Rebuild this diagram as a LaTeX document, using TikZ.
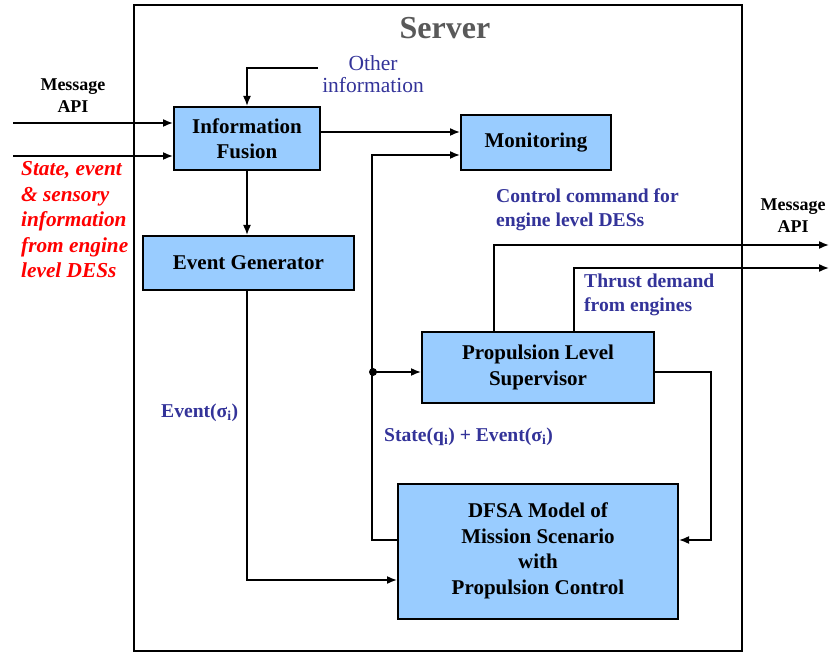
\documentclass[tikz,border=0pt]{standalone}
\usepackage{fontspec}
\setmainfont{Liberation Serif}
\usetikzlibrary{arrows.meta}
\definecolor{boxfill}{HTML}{99CCFF}
\definecolor{lblue}{HTML}{333399}
\definecolor{titlegray}{HTML}{595959}
\begin{document}
\begin{tikzpicture}[x=1pt,y=-1pt,
  box/.style={draw=black, line width=2pt, fill=boxfill, align=center,
    font=\fontsize{21}{25.5}\selectfont\bfseries, inner sep=0pt},
  arr/.style={line width=1.6pt, -{Latex[length=10pt,width=8pt]}},
  lbl/.style={text=lblue, font=\fontsize{19.6}{24}\selectfont\bfseries, align=left, inner sep=0pt},
  api/.style={font=\fontsize{18}{22}\selectfont\bfseries, align=center, inner sep=0pt}]
\useasboundingbox (0,0) rectangle (830,652);

% server frame and title
\draw[line width=1.6pt] (134,5) rectangle (742,651);
\node[text=titlegray, font=\fontsize{32}{36}\selectfont\bfseries] (title) at (445,28) {Server};

% blocks
\node[box, minimum width=146pt, minimum height=63pt] (IF) at (247,138.5) {Information\\Fusion};
\node[box, minimum width=150pt, minimum height=55pt] (Mon) at (536,143) {Monitoring};
\node[box, minimum width=211pt, minimum height=54pt] (EG) at (248.5,263) {Event Generator};
\node[box, minimum width=232pt, minimum height=71pt] (Prop) at (538,367.5) {Propulsion Level\\Supervisor};
\node[box, minimum width=280pt, minimum height=135pt] (DFSA) at (538,551) {DFSA Model of\\Mission Scenario\\with\\Propulsion Control};

% free ends
\coordinate (in1) at (13,123);
\coordinate (in2) at (13,156);
\coordinate (oi) at (318,68);
\coordinate (out1) at (829,245);
\coordinate (out2) at (829,268);
\coordinate (j) at (373,372);

% inputs to information fusion
\draw[arr] (in1) -- (in1 -| IF.west);
\draw[arr] (in2) -- (in2 -| IF.west);
\draw[arr] (oi) -| (IF.north);

% fusion outputs
\draw[arr] ([yshift=6.5pt]IF.east) -- ([yshift=6.5pt]IF.east -| Mon.west);
\draw[arr] (IF.south) -- (IF.south |- EG.north);
\draw[arr] (IF.south |- EG.south) |- ([yshift=-29pt]DFSA.west);

% state/event bus from the DFSA model
\draw[arr] ([yshift=11pt]DFSA.west) -- ++(-25pt,0) |- ([yshift=-12pt]Mon.west);
\draw[arr] (j) -- (j -| Prop.west);
\fill (j) circle (4pt);

% supervisor outputs
\draw[arr] ([yshift=-4.5pt]Prop.east) -- ++(56pt,0) |- ([yshift=11pt]DFSA.east);
\draw[arr] ([xshift=-44pt]Prop.north) |- (out1);
\draw[arr] ([xshift=36pt]Prop.north) |- (out2);

% labels
\node[api] (apiL) at (73,96) {Message\\API};
\node[api] (apiR) at (793,216) {Message\\API};
\node[text=lblue, font=\fontsize{21.5}{22}\selectfont, align=center, inner sep=0pt] (other) at (373,74) {Other\\information};
\node[text=red, font=\fontsize{21.3}{25.5}\selectfont\bfseries\itshape, align=left, inner sep=0pt, anchor=west] (des) at (21,220)
  {State, event\\\& sensory\\information\\from engine\\level DESs};
\node[lbl, anchor=west] (ctl) at (496,210) {Control command for\\engine level DESs};
\node[lbl, anchor=west] (thr) at (584,295) {Thrust demand\\from engines};
\node[lbl, anchor=west] (ev) at (161,413) {Event(σ\textsubscript{i})};
\node[lbl, anchor=west] (st) at (384,437) {State(q\textsubscript{i}) + Event(σ\textsubscript{i})};
\end{tikzpicture}
\end{document}
